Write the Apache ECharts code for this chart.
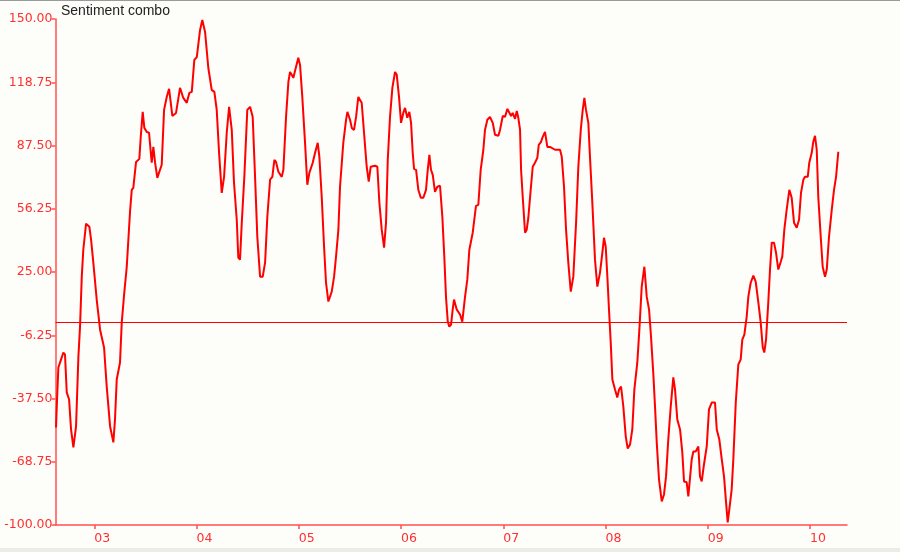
<!DOCTYPE html>
<html>
<head>
<meta charset="utf-8">
<script src="https://cdn.jsdelivr.net/npm/echarts@6/dist/echarts.min.js"></script>
<style>
html,body{margin:0;padding:0;background:#fdfdf9;}
#chart{width:900px;height:552px;}
</style>
</head>
<body>
<div id="chart"></div>
<script>
// Decimal-year dates of the sentiment series
const dates = [
2002.625,2002.635,2002.648,2002.674,2002.697,2002.713,2002.730,2002.753,2002.772,2002.795,
2002.821,2002.844,2002.860,2002.877,2002.892,2002.919,2002.951,2002.968,2002.990,2003.023,
2003.056,2003.095,2003.121,2003.154,2003.186,2003.202,2003.219,2003.251,2003.268,2003.291,
2003.317,2003.349,2003.366,2003.381,2003.408,2003.440,2003.454,2003.473,2003.489,2003.513,
2003.535,2003.561,2003.577,2003.594,2003.616,2003.659,2003.682,2003.708,2003.731,2003.763,
2003.799,2003.838,2003.870,2003.904,2003.929,2003.953,2003.978,2004.002,2004.034,2004.056,
2004.083,2004.115,2004.148,2004.174,2004.197,2004.220,2004.246,2004.269,2004.295,2004.318,
2004.344,2004.366,2004.393,2004.408,2004.425,2004.442,2004.467,2004.496,2004.523,2004.549,
2004.572,2004.594,2004.621,2004.647,2004.670,2004.692,2004.719,2004.741,2004.761,2004.777,
2004.800,2004.833,2004.849,2004.875,2004.898,2004.914,2004.931,2004.946,2004.970,2004.995,
2005.012,2005.034,2005.061,2005.083,2005.103,2005.136,2005.159,2005.185,2005.201,2005.224,
2005.247,2005.266,2005.289,2005.322,2005.345,2005.364,2005.387,2005.403,2005.435,2005.462,
2005.475,2005.501,2005.518,2005.540,2005.560,2005.582,2005.615,2005.641,2005.664,2005.684,
2005.703,2005.745,2005.768,2005.788,2005.811,2005.834,2005.853,2005.870,2005.892,2005.915,
2005.941,2005.958,2005.980,2006.000,2006.022,2006.039,2006.061,2006.081,2006.098,2006.114,
2006.127,2006.147,2006.169,2006.193,2006.218,2006.244,2006.261,2006.277,2006.293,2006.310,
2006.332,2006.355,2006.381,2006.404,2006.423,2006.440,2006.457,2006.472,2006.489,2006.505,
2006.518,2006.545,2006.577,2006.599,2006.626,2006.648,2006.668,2006.701,2006.733,2006.756,
2006.779,2006.805,2006.821,2006.844,2006.870,2006.897,2006.919,2006.952,2006.968,2006.995,
2007.017,2007.040,2007.059,2007.076,2007.092,2007.115,2007.132,2007.147,2007.164,2007.174,
2007.190,2007.213,2007.229,2007.245,2007.268,2007.288,2007.310,2007.333,2007.347,2007.369,
2007.386,2007.408,2007.431,2007.457,2007.506,2007.555,2007.572,2007.594,2007.614,2007.636,
2007.660,2007.685,2007.712,2007.734,2007.758,2007.777,2007.793,2007.809,2007.832,2007.848,
2007.871,2007.897,2007.920,2007.946,2007.969,2007.985,2008.002,2008.018,2008.034,2008.051,
2008.067,2008.093,2008.115,2008.132,2008.152,2008.174,2008.198,2008.217,2008.240,2008.262,
2008.282,2008.311,2008.331,2008.354,2008.380,2008.403,2008.426,2008.445,2008.468,2008.484,
2008.501,2008.523,2008.550,2008.572,2008.592,2008.614,2008.638,2008.663,2008.680,2008.702,
2008.729,2008.751,2008.768,2008.794,2008.810,2008.827,2008.843,2008.859,2008.882,2008.908,
2008.924,2008.941,2008.963,2008.990,2009.012,2009.039,2009.071,2009.088,2009.113,2009.137,
2009.159,2009.179,2009.195,2009.211,2009.234,2009.250,2009.274,2009.299,2009.322,2009.338,
2009.358,2009.381,2009.397,2009.420,2009.446,2009.469,2009.495,2009.518,2009.538,2009.553,
2009.570,2009.592,2009.609,2009.626,2009.648,2009.668,2009.690,2009.714,2009.729,2009.749,
2009.772,2009.798,2009.821,2009.844,2009.870,2009.893,2009.912,2009.935,2009.951,2009.978,
2009.993,2010.017,2010.032,2010.049,2010.066,2010.081,2010.105,2010.124,2010.147,2010.164,
2010.186,2010.213,2010.235,2010.255,2010.277
];
// Sentiment combo values
const values = [
-51.8,-38.0,-22.2,-18.3,-14.8,-15.8,-34.5,-38.0,-52.8,-61.7,
-51.3,-16.8,-2.0,22.7,36.0,48.9,47.4,41.0,29.6,11.4,
-3.5,-12.3,-31.6,-51.3,-59.2,-47.9,-28.1,-19.7,0.0,13.8,
27.6,54.8,65.6,66.6,79.4,80.9,91.8,104.1,96.2,94.2,
93.8,79.0,86.8,79.0,71.5,78.0,105.1,111.5,115.5,102.1,
103.6,116.0,111.0,108.6,113.5,114.0,129.8,131.2,144.6,149.5,
143.6,125.8,115.0,114.0,105.1,83.9,64.1,72.0,93.8,106.6,
95.2,69.1,50.8,32.1,31.1,49.3,72.0,105.1,106.6,101.6,
72.0,42.4,22.7,22.7,29.6,52.3,70.6,72.0,80.4,79.4,
74.5,72.0,75.5,101.6,118.9,123.8,122.4,120.9,125.8,130.8,
127.3,111.5,88.8,68.1,74.0,79.0,83.9,88.8,81.9,62.2,
37.5,19.7,10.4,15.3,22.7,32.6,45.9,67.1,88.8,100.2,
104.1,100.2,96.2,95.2,101.6,111.5,108.6,91.8,77.0,69.6,
77.0,77.5,77.0,59.2,45.9,37.0,49.3,80.4,101.6,116.0,
123.8,122.4,111.5,98.7,103.6,106.1,101.2,104.1,98.7,83.9,
76.0,75.5,65.6,61.7,61.7,65.6,75.5,82.9,75.5,73.0,
64.6,67.1,67.6,52.3,32.6,12.3,0.5,-2.0,-1.0,6.4,
11.4,6.4,4.0,0.5,12.8,21.2,36.0,44.4,57.7,58.2,
75.5,85.4,95.2,100.2,101.6,98.7,92.8,92.3,95.2,102.1,
101.6,105.6,105.1,102.1,103.6,100.7,104.6,101.2,95.2,75.5,
62.2,44.4,45.9,51.8,65.6,77.0,79.0,81.4,87.8,89.3,
91.8,94.2,86.8,86.8,85.4,85.4,81.9,67.1,45.9,29.6,
15.3,22.7,49.3,77.0,95.2,105.1,111.0,105.1,98.7,81.9,
59.2,31.1,17.8,24.7,34.5,41.9,37.5,22.7,6.4,-9.9,
-28.1,-33.1,-37.0,-33.1,-31.6,-41.4,-56.3,-62.2,-60.2,-52.8,
-33.1,-19.7,-3.5,17.8,27.6,12.8,6.4,-6.9,-25.7,-41.4,
-59.2,-77.5,-88.3,-84.9,-76.0,-57.7,-41.4,-27.1,-33.1,-47.9,
-52.8,-64.1,-78.5,-78.9,-85.9,-86.3,-67.6,-63.7,-63.7,-61.2,
-76.0,-78.5,-70.1,-61.2,-42.9,-39.5,-39.5,-52.8,-57.7,-67.6,
-76.0,-88.8,-98.7,-92.3,-82.4,-67.6,-39.5,-20.7,-18.3,-8.4,
-5.9,3.0,12.8,19.7,23.2,20.2,9.9,0.0,-12.3,-14.8,
-8.4,9.9,26.2,39.5,39.5,34.5,26.2,30.1,32.6,45.9,
55.8,65.6,61.7,49.3,46.9,50.8,64.1,70.6,72.0,72.0,
79.0,83.9,89.3,92.3,85.4,62.2,42.4,27.6,22.7,26.2,
42.4,55.8,65.6,72.0,84.4
];
const yearTicks = [2003,2004,2005,2006,2007,2008,2009,2010];
const xRange = [2002.62, 2010.362];
const yRange = [-100, 150];
const yStep = 31.25;
const title = 'Sentiment combo';

const seriesData = dates.map((d, i) => [d, values[i]]);

const axisRed = 'rgb(255,80,80)';

const chart = echarts.init(document.getElementById('chart'), null, {renderer: 'canvas'});
chart.setOption({
  backgroundColor: '#fdfdf9',
  animation: false,
  title: {
    text: title, left: 61, top: 4, padding: 0,
    textStyle: {fontFamily: 'Liberation Sans', fontSize: 14, fontWeight: 'normal', color: '#222'}
  },
  grid: {left: 55.5, right: 53, top: 19, bottom: 27},
  xAxis: {
    type: 'value', min: xRange[0], max: xRange[1],
    axisLine: {show: true, onZero: false, lineStyle: {color: axisRed, width: 1.5, opacity: 1}},
    axisTick: {show: true, length: 4, customValues: yearTicks, lineStyle: {color: axisRed, width: 1.5}},
    axisLabel: {
      customValues: yearTicks, align: 'left', margin: 7,
      color: '#ff3030', fontFamily: 'DejaVu Sans', fontSize: 12.5,
      formatter: v => String(Math.round(v)).slice(2)
    },
    splitLine: {show: false}
  },
  yAxis: {
    type: 'value', min: yRange[0], max: yRange[1], interval: yStep,
    axisLine: {show: true, onZero: false, lineStyle: {color: axisRed, width: 1.5, opacity: 1}},
    axisTick: {show: true, length: 4, lineStyle: {color: axisRed, width: 1.5}},
    axisLabel: {
      color: '#ff3030', fontFamily: 'DejaVu Sans', fontSize: 12.5, margin: 3,
      formatter: v => v.toFixed(2)
    },
    splitLine: {show: false}
  },
  graphic: [
    {type: 'rect', shape: {x: 0, y: 0, width: 900, height: 1}, style: {fill: '#9a9a9a'}, silent: true},
    {type: 'rect', shape: {x: 0, y: 548, width: 900, height: 4}, style: {fill: '#ecebe4'}, silent: true}
  ],
  series: [{
    type: 'line',
    data: seriesData,
    showSymbol: false,
    symbol: 'none',
    lineStyle: {color: '#ff0000', width: 2},
    markLine: {
      silent: true, symbol: 'none', label: {show: false},
      lineStyle: {color: '#ff0000', width: 1, type: 'solid'},
      data: [{yAxis: 0}]
    }
  }]
});
</script>
</body>
</html>
